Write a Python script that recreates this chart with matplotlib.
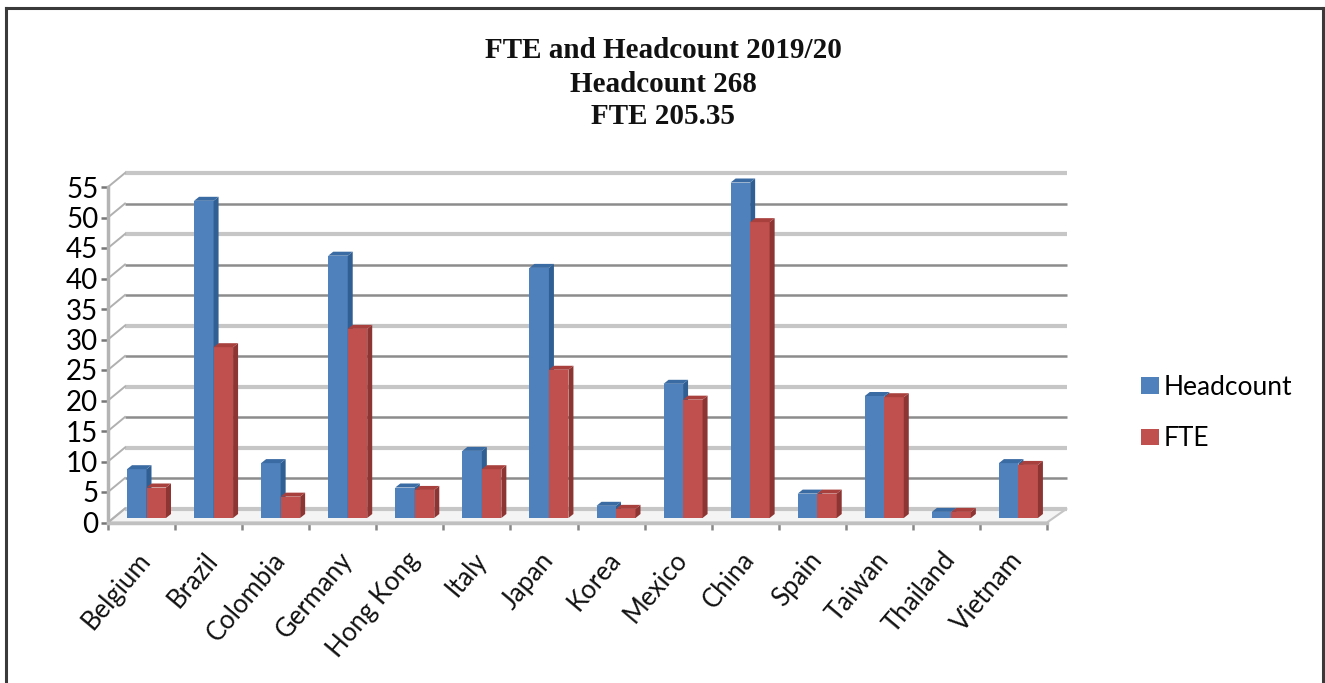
import matplotlib
matplotlib.use('Agg')
import matplotlib.pyplot as plt
from matplotlib.patches import Polygon, Patch
from matplotlib.lines import Line2D

countries = ['Belgium', 'Brazil', 'Colombia', 'Germany', 'Hong Kong', 'Italy', 'Japan',
             'Korea', 'Mexico', 'China', 'Spain', 'Taiwan', 'Thailand', 'Vietnam']
headcount = [8, 52, 9, 43, 5, 11, 41, 2, 22, 55, 4, 20, 1, 9]
fte = [5, 28, 3.5, 31, 4.6, 8, 24.3, 1.5, 19.4, 48.5, 4, 19.8, 1, 8.7]
y_ticks = list(range(0, 60, 5))
# resampling in the original makes the gridlines alternate dark / pale
grid_dark = [5, 15, 25, 35, 40, 50]

W, H = 1325, 683
fig = plt.figure(figsize=(W / 100, H / 100), dpi=100)
ax = fig.add_axes([108 / W, 1 - 522.5 / H, 939 / W, 335.5 / H])
ax.set_xlim(0, 14)
ax.set_ylim(0, 55)
ax.patch.set_visible(False)

px_x = 14 / 939
px_y = 55 / 335.5
depth_x = 17 * px_x
depth_y = 14 * px_y
bar_w = 19.5 * px_x
bar_dx = 5 * px_x
bar_dy = 4 * px_y
base = 4.5 * px_y
start = 19 * px_x

# floor
ax.add_patch(Polygon([(0, 0), (14, 0), (14 + depth_x + 3 * px_x, depth_y), (depth_x, depth_y)],
                     closed=True, fc='#f4f4f4', ec='#c4c4c4', lw=1.5, zorder=1, clip_on=False))

# back wall gridlines
for v in y_ticks:
    if v in grid_dark:
        col, lw = '#8c8c8c', 1.8
    else:
        col, lw = '#c6c6c6', 3
    ax.plot([depth_x, 14 + depth_x + 3 * px_x], [v + depth_y, v + depth_y], color=col, lw=lw,
            zorder=1.5, clip_on=False, solid_capstyle='butt')
    ax.plot([0, depth_x], [v, v + depth_y], color='#b0b0b0', lw=1.4, zorder=1.5, clip_on=False)

def draw_bar(x, v, face, side, top, z):
    y0 = base
    y1 = base + v
    ax.bar(x, v, bar_w, bottom=y0, align='edge', color=face, zorder=z, clip_on=False)
    ax.add_patch(Polygon([(x + bar_w, y0), (x + bar_w + bar_dx, y0 + bar_dy),
                          (x + bar_w + bar_dx, y1 + bar_dy), (x + bar_w, y1)],
                         closed=True, fc=side, ec='none', zorder=z, clip_on=False))
    ax.add_patch(Polygon([(x, y1), (x + bar_w, y1), (x + bar_w + bar_dx, y1 + bar_dy),
                          (x + bar_dx, y1 + bar_dy)],
                         closed=True, fc=top, ec='none', zorder=z, clip_on=False))

for i in range(len(countries)):
    draw_bar(i + start, headcount[i], '#4f81bd', '#2f5f93', '#3b6ba3', 3 + i * 0.01)
    draw_bar(i + start + bar_w, fte[i], '#c0504d', '#8c3533', '#a8403d', 3.005 + i * 0.01)

for s in ['top', 'right']:
    ax.spines[s].set_visible(False)
ax.spines['left'].set_color('#b4b4b4')
ax.spines['left'].set_linewidth(2.5)
ax.spines['bottom'].set_color('#c0c0c0')
ax.spines['bottom'].set_linewidth(2.5)

ax.set_yticks(y_ticks)
ax.tick_params(axis='y', labelsize=20, length=5, width=1.8, color='#777777', pad=2)
ax.set_xticks(range(len(countries) + 1))
ax.set_xticklabels([])
ax.tick_params(axis='x', length=5, width=1.8, color='#888888')
for lab in ax.get_yticklabels():
    lab.set_family('Lato')

for i, name in enumerate(countries):
    ax.annotate(name, xy=(i + 0.43, 0), xycoords='data', xytext=(0, -25), textcoords='offset pixels',
                rotation=50, ha='right', va='top', rotation_mode='anchor',
                fontsize=18.5, family='Lato', color='#111111', annotation_clip=False)

for line, py in zip(['FTE and Headcount 2019/20', 'Headcount 268', 'FTE 205.35'], [50, 84, 116]):
    fig.text(663 / W, 1 - py / H, line, family='Liberation Serif', weight='bold', fontsize=21,
             ha='center', va='center', color='#111111')

handles = [Patch(fc='#4f81bd', ec='none', label='Headcount'), Patch(fc='#c0504d', ec='none', label='FTE')]
fig.legend(handles=handles, loc='upper left', bbox_to_anchor=(1141 / W, 1 - 375 / H), frameon=False,
           prop={'family': 'Lato', 'size': 19}, handlelength=0.7, handleheight=0.6,
           handletextpad=0.15, labelspacing=1.0, borderaxespad=0, borderpad=0)

# outer frame, no bottom edge
frame = dict(color='#3a3a3a', lw=2.2, transform=fig.transFigure)
fig.add_artist(Line2D([6 / W, 6 / W], [0, 1 - 8 / H], **frame))
fig.add_artist(Line2D([6 / W, 1322.5 / W], [1 - 8 / H, 1 - 8 / H], **frame))
fig.add_artist(Line2D([1322.5 / W, 1322.5 / W], [0, 1 - 8 / H], **frame))

fig.savefig('out.png', dpi=100)
